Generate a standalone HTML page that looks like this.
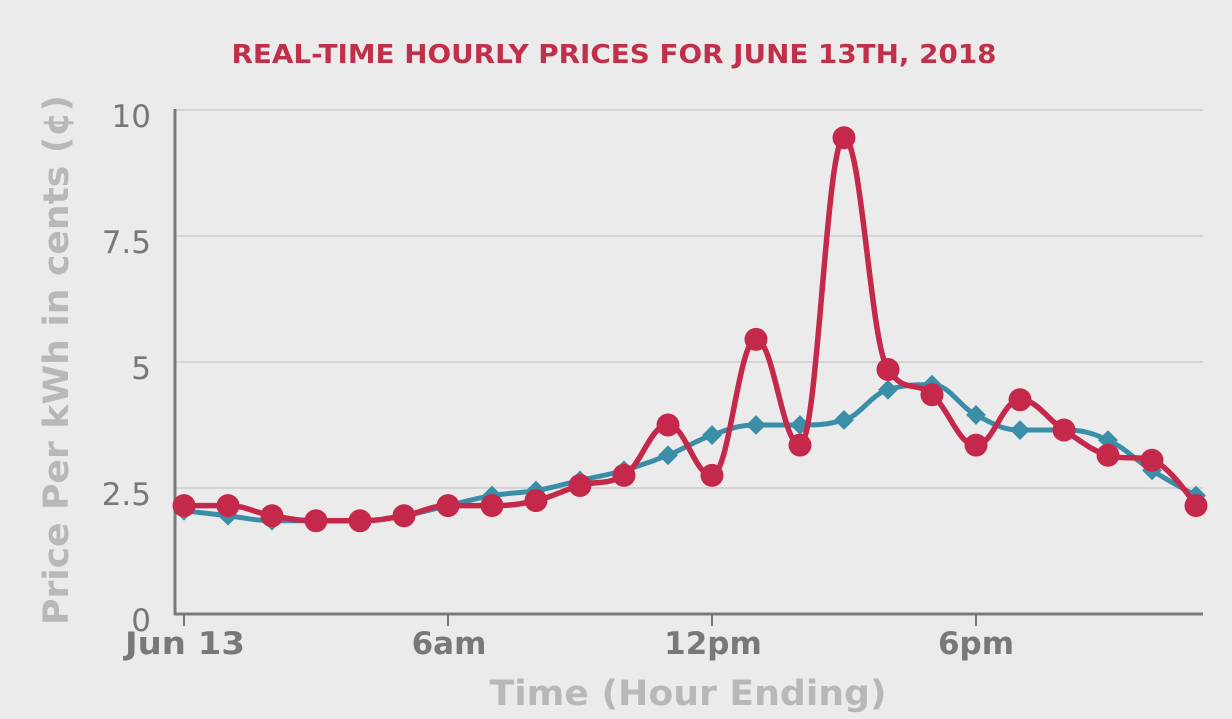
<!DOCTYPE html>
<html><head><meta charset="utf-8"><style>
html,body{margin:0;padding:0;background:#ebebeb;}
svg{display:block;font-family:"DejaVu Sans","Liberation Sans",sans-serif;}
</style></head><body>
<svg id="s" width="1232" height="719" xmlns="http://www.w3.org/2000/svg">
<rect width="1232" height="719" fill="#ebebeb"/>
<text x="614" y="63" text-anchor="middle" fill="#c0304a" font-size="26" font-weight="bold" textLength="765" lengthAdjust="spacingAndGlyphs">REAL-TIME HOURLY PRICES FOR JUNE 13TH, 2018</text>
<g stroke="#d4d4d4" stroke-width="2">
<line x1="176" x2="1203" y1="110" y2="110"/>
<line x1="176" x2="1203" y1="236" y2="236"/>
<line x1="176" x2="1203" y1="362" y2="362"/>
<line x1="176" x2="1203" y1="488" y2="488"/>
</g>
<line x1="175" x2="175" y1="109" y2="615" stroke="#7a7a7a" stroke-width="3"/>
<line x1="174" x2="1203" y1="614" y2="614" stroke="#7a7a7a" stroke-width="3"/>
<g stroke="#7a7a7a" stroke-width="2">
<line x1="184" x2="184" y1="614" y2="626"/><line x1="448" x2="448" y1="614" y2="626"/>
<line x1="712" x2="712" y1="614" y2="626"/><line x1="976" x2="976" y1="614" y2="626"/>
</g>
<g fill="#787878" font-size="31" text-anchor="end">
<text x="151" y="127">10</text><text x="151" y="253">7.5</text><text x="151" y="379">5</text>
<text x="151" y="505">2.5</text><text x="151" y="631">0</text>
</g>
<g fill="#787878" font-size="31" font-weight="bold" text-anchor="middle">
<text x="185" y="654" textLength="120" lengthAdjust="spacingAndGlyphs">Jun 13</text><text x="449" y="654">6am</text>
<text x="713" y="654">12pm</text><text x="976" y="654">6pm</text>
</g>
<text x="688" y="705" text-anchor="middle" fill="#b8b8b8" font-size="35" font-weight="bold" textLength="397" lengthAdjust="spacingAndGlyphs">Time (Hour Ending)</text>
<text transform="translate(68,360) rotate(-90)" text-anchor="middle" fill="#b8b8b8" font-size="35" font-weight="bold" textLength="530" lengthAdjust="spacingAndGlyphs">Price Per kWh in cents (¢)</text>
<g id="series"></g>
</svg>
<script>
var red=[2.15,2.15,1.95,1.85,1.85,1.95,2.15,2.15,2.25,2.55,2.75,3.75,2.75,5.45,3.35,9.45,4.85,4.35,3.35,4.25,3.65,3.15,3.05,2.15];
var blue=[2.05,1.95,1.85,1.85,1.85,1.95,2.15,2.35,2.45,2.65,2.85,3.15,3.55,3.75,3.75,3.85,4.45,4.55,3.95,3.65,3.65,3.45,2.85,2.35];
function pts(a){return a.map(function(v,i){return [184+44*i,614-v*50.4];});}
function spline(p){
 var s=1.5,d=2.5,str="M"+p[0][0]+","+p[0][1];
 var ctrl=[];
 for(var i=0;i<p.length;i++){
  if(i==0||i==p.length-1){ctrl.push(null);continue;}
  var l=p[i-1],c=p[i],n=p[i+1];
  var lx=(s*c[0]+l[0])/d,ly=(s*c[1]+l[1])/d,rx=(s*c[0]+n[0])/d,ry=(s*c[1]+n[1])/d;
  var corr=0;
  if(rx!=lx){corr=((ry-ly)*(rx-c[0]))/(rx-lx)+c[1]-ry;}
  ly+=corr;ry+=corr;
  if(ly>l[1]&&ly>c[1]){ly=Math.max(l[1],c[1]);ry=2*c[1]-ly;}else if(ly<l[1]&&ly<c[1]){ly=Math.min(l[1],c[1]);ry=2*c[1]-ly;}
  if(ry>n[1]&&ry>c[1]){ry=Math.max(n[1],c[1]);ly=2*c[1]-ry;}else if(ry<n[1]&&ry<c[1]){ry=Math.min(n[1],c[1]);ly=2*c[1]-ry;}
  ctrl.push([lx,ly,rx,ry]);
 }
 for(var i=1;i<p.length;i++){
  var a=ctrl[i-1]?[ctrl[i-1][2],ctrl[i-1][3]]:p[i-1];
  var b=ctrl[i]?[ctrl[i][0],ctrl[i][1]]:p[i];
  str+=" C"+a[0]+","+a[1]+" "+b[0]+","+b[1]+" "+p[i][0]+","+p[i][1];
 }
 return str;
}
var g=document.getElementById("series"),h="";
var bp=pts(blue),rp=pts(red);
h+='<path d="'+spline(bp)+'" fill="none" stroke="#3a8ea8" stroke-width="5"/>';
bp.forEach(function(q){h+='<rect x="'+(q[0]-7)+'" y="'+(q[1]-7)+'" width="14" height="14" fill="#3a8ea8" transform="rotate(45 '+q[0]+' '+q[1]+')"/>';});
h+='<path d="'+spline(rp)+'" fill="none" stroke="#c4284a" stroke-width="5.5"/>';
rp.forEach(function(q){h+='<circle cx="'+q[0]+'" cy="'+q[1]+'" r="11.5" fill="#c4284a"/>';});
g.innerHTML=h;
</script>
</body></html>
